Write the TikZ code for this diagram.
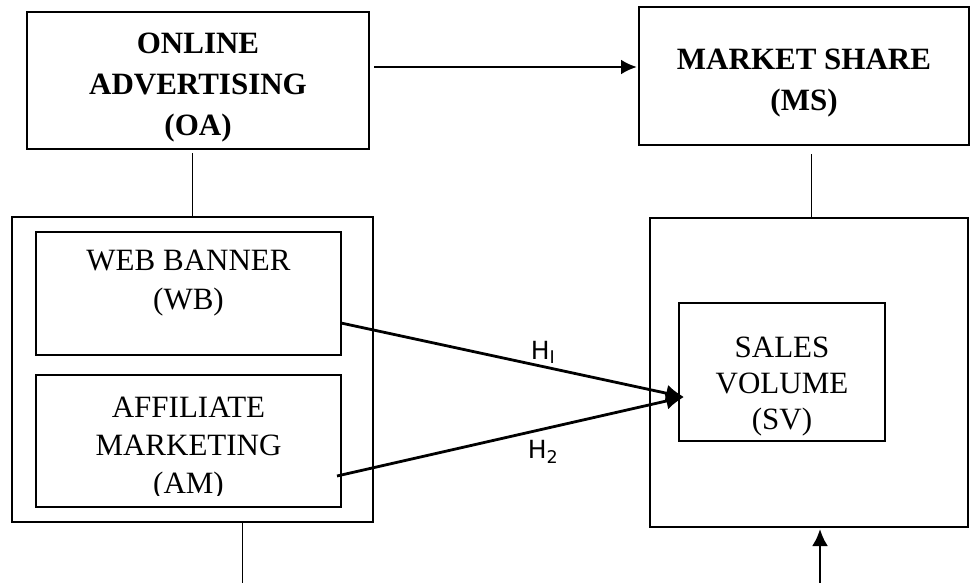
\documentclass[tikz,border=0pt]{standalone}
\usepackage{fontspec}
\setmainfont{Liberation Serif}
\newfontfamily\hfont{DejaVu Sans}
\usetikzlibrary{arrows.meta}
\begin{document}
\begin{tikzpicture}[x=1pt,y=-1pt,
  box/.style={draw,line width=2.8pt,inner sep=0pt},
  thin/.style={line width=0.9pt},
  arr/.style={line width=2.8pt,-{Latex[length=18pt,width=17pt]}},
  bigtxt/.style={align=center,font=\fontsize{31}{41}\selectfont\bfseries},
  txt/.style={align=center,font=\fontsize{31}{39}\selectfont},
  hlab/.style={font=\fontsize{25}{25}\hfont}]
\useasboundingbox (0,0) rectangle (971,583);
% top boxes
\node[box,minimum width=342pt,minimum height=137pt] (oa) at (198,80.5) {};
\node[bigtxt] (oat) at (198,88) {ONLINE\\ADVERTISING\\(OA)};
\node[box,minimum width=330pt,minimum height=138pt] (ms) at (804,76) {};
\node[bigtxt] (mst) at (804,83) {MARKET SHARE\\(MS)};
% left group
\node[box,minimum width=361pt,minimum height=305pt] (lg) at (192.5,369.5) {};
\node[box,minimum width=305pt,minimum height=123pt] (wb) at (188.5,293.5) {};
\node[txt] (wbt) at (188.5,283) {WEB BANNER\\(WB)};
\node[box,minimum width=305pt,minimum height=132pt] (am) at (188.5,441) {};
\begin{scope}
\clip (36,376) rectangle (341,495);
\node[txt,font=\fontsize{31}{38}\selectfont] (amt) at (188.5,449) {AFFILIATE\\MARKETING\\(AM)};
\end{scope}
% right group
\node[box,minimum width=318pt,minimum height=309pt] (rg) at (809,372.5) {};
\node[box,minimum width=206pt,minimum height=138pt] (sv) at (782,372) {};
\node[txt,font=\fontsize{31}{36}\selectfont] (svt) at (782,386.5) {SALES\\VOLUME\\(SV)};
% connectors
\coordinate (oas) at (374,67);
\coordinate (mse) at (637,67);
\draw[line width=2.8pt,-{Latex[length=16pt,width=15pt]}] (oas) -- (mse);
\draw[thin] (oa.south -| 192,0) ++(0,3) -- (lg.north -| 192,0);
\draw[thin] (ms.south -| 811,0) ++(0,8) -- (rg.north -| 811,0);
\coordinate (wbs) at (341,323);
\coordinate (ams) at (337,476);
\coordinate (tip) at (684,397);
\draw[arr] (wbs) -- (tip);
\draw[arr] (ams) -- (tip);
\node[hlab] (h1) at (543,352) {H\textsubscript{I}};
\node[hlab] (h2) at (543,452) {H\textsubscript{2}};
\coordinate (lb) at (242,583);
\draw[thin] (lg.south -| lb) -- (lb);
\coordinate (rb) at (820,583);
\draw[line width=2.8pt,-{Latex[length=17pt,width=16pt]}] (rb) -- (820,529);
\end{tikzpicture}
\end{document}
